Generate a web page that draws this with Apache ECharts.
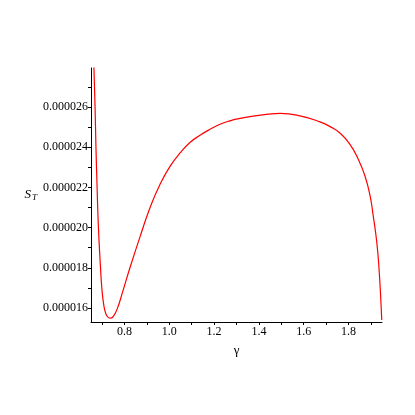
<!DOCTYPE html>
<html>
<head>
<meta charset="utf-8">
<script src="https://cdn.jsdelivr.net/npm/echarts@6/dist/echarts.min.js"></script>
<style>
  html, body { margin: 0; padding: 0; background: #fff; }
  #chart { width: 415px; height: 415px; }
</style>
</head>
<body>
<div id="chart"></div>
<script>
// curve (gamma, S_T)
const gammaValues = [0.663, 0.668, 0.672, 0.677, 0.683, 0.692, 0.699, 0.707, 0.716, 0.727, 0.739, 0.752, 0.768, 0.790, 0.824, 0.873, 0.914, 0.958, 1.003, 1.048, 1.092, 1.137, 1.182, 1.226, 1.271, 1.316, 1.360, 1.442, 1.495, 1.584, 1.673, 1.718, 1.763, 1.807, 1.844, 1.874, 1.897, 1.911, 1.927, 1.937, 1.944, 1.949]
const stValues = [0.0000280, 0.00002607, 0.00002407, 0.00002210, 0.00002005, 0.00001810, 0.00001690, 0.00001615, 0.00001572, 0.00001553, 0.00001549, 0.00001562, 0.00001598, 0.00001675, 0.00001800, 0.00001968, 0.00002100, 0.00002215, 0.00002305, 0.00002372, 0.00002424, 0.00002460, 0.00002490, 0.00002515, 0.00002532, 0.00002544, 0.00002553, 0.00002565, 0.00002569, 0.00002557, 0.00002527, 0.00002503, 0.00002470, 0.00002415, 0.00002340, 0.00002257, 0.00002157, 0.00002057, 0.00001924, 0.00001790, 0.00001657, 0.00001540]

const xLabels = [0.8, 1.0, 1.2, 1.4, 1.6, 1.8]
const xTicks = [0.7, 0.8, 0.9, 1.0, 1.1, 1.2, 1.3, 1.4, 1.5, 1.6, 1.7, 1.8, 1.9]
const yLabels = [0.000016, 0.000018, 0.000020, 0.000022, 0.000024, 0.000026]
const yTicks = [0.000016, 0.000017, 0.000018, 0.000019, 0.000020, 0.000021, 0.000022, 0.000023, 0.000024, 0.000025, 0.000026, 0.000027]

const chart = echarts.init(document.getElementById('chart'))
const font = 'Liberation Serif'

let option = {
  animation: false,
  grid: { left: 91, right: 33, top: 68, bottom: 93 },
  xAxis: {
    type: 'value',
    min: 0.65,
    max: 1.95,
    name: 'γ',
    nameLocation: 'middle',
    nameGap: 22,
    nameTextStyle: { fontFamily: font, fontSize: 13, color: '#000' },
    splitLine: { show: false },
    axisLine: { lineStyle: { color: '#000', width: 1 } },
    axisTick: { customValues: xTicks, length: 3, lineStyle: { color: '#000' } },
    axisLabel: {
      customValues: xLabels,
      margin: 4,
      fontFamily: font,
      fontSize: 12,
      color: '#000',
      formatter: v => v.toFixed(1)
    }
  },
  yAxis: {
    type: 'value',
    min: 0.0000153,
    max: 0.00002795,
    name: '{s|S}{t|T}',
    nameLocation: 'middle',
    nameRotate: 0,
    nameGap: 52,
    nameTextStyle: {
      rich: {
        s: { fontFamily: font, fontStyle: 'italic', fontSize: 13, color: '#000' },
        t: { fontFamily: font, fontStyle: 'italic', fontSize: 9, color: '#000', padding: [6, 0, 0, 1] }
      }
    },
    splitLine: { show: false },
    axisLine: { show: true, lineStyle: { color: '#000', width: 1 } },
    axisTick: { show: true, customValues: yTicks, length: 3, lineStyle: { color: '#000' } },
    axisLabel: {
      customValues: yLabels,
      margin: 3,
      fontFamily: font,
      fontSize: 12,
      color: '#000',
      formatter: v => v.toFixed(6)
    }
  },
  series: [
    {
      type: 'line',
      data: gammaValues.map((g, i) => [g, stValues[i]]),
      smooth: 0.5,
      showSymbol: false,
      clip: true,
      lineStyle: { color: '#ff0000', width: 1.2 }
    }
  ]
}

chart.setOption(option)
</script>
</body>
</html>
